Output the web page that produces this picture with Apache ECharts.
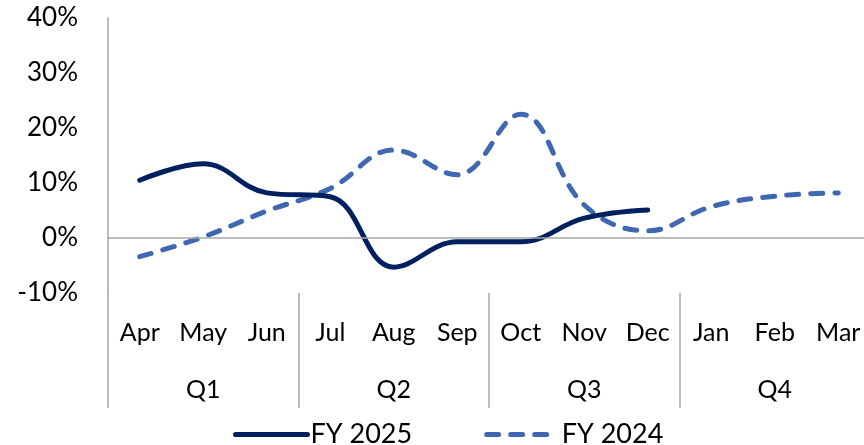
<!DOCTYPE html>
<html>
<head>
<meta charset="utf-8">
<script src="https://cdn.jsdelivr.net/npm/echarts@6/dist/echarts.min.js"></script>
<style>
  html, body { margin: 0; padding: 0; background: #fff; }
  #chart { width: 864px; height: 445px; }
</style>
</head>
<body>
<div id="chart"></div>
<script>
const months = ['Apr', 'May', 'Jun', 'Jul', 'Aug', 'Sep', 'Oct', 'Nov', 'Dec', 'Jan', 'Feb', 'Mar'];
const quarters = ['Q1', 'Q2', 'Q3', 'Q4'];
const fy2025 = [10.5, 13.5, 8.2, 7.5, -5.3, -0.7, -0.7, 3.6, 5.1];
const fy2024 = [-3.4, 0.2, 4.9, 9.0, 16.0, 11.5, 22.5, 6.0, 1.3, 5.7, 7.6, 8.2];

const font = 'Lato, "Open Sans", sans-serif';
const grey = '#a6a6a6';
const chart = echarts.init(document.getElementById('chart'));

chart.setOption({
    backgroundColor: '#fff',
    animation: false,
    grid: [
        // plot area (runs a little past the right edge, like the original)
        { left: 108, width: 762, top: 18, height: 275, outerBoundsMode: 'none' },
        // band under the plot that holds the quarter separators
        { left: 108, width: 762, top: 293, height: 115, outerBoundsMode: 'none' }
    ],
    legend: {
        left: 228,
        top: 416,
        itemWidth: 72,
        itemHeight: 6,
        itemGap: 72,
        textStyle: { fontFamily: font, fontSize: 27, color: '#000', padding: [0, 0, 0, -2] },
        itemStyle: { opacity: 0 },
        lineStyle: { width: 5 },
        data: ['FY 2025', 'FY 2024']
    },
    xAxis: [
        {
            type: 'category',
            data: months,
            gridIndex: 0,
            position: 'bottom',
            axisLine: { show: false },
            axisTick: { show: false },
            axisLabel: {
                margin: 27,
                interval: 0,
                fontFamily: font,
                fontSize: 25,
                color: '#000'
            }
        },
        {
            type: 'category',
            data: quarters,
            gridIndex: 0,
            position: 'bottom',
            axisLine: { show: false },
            axisTick: { show: false },
            axisLabel: {
                margin: 84,
                fontFamily: font,
                fontSize: 25,
                color: '#000'
            }
        },
        {
            type: 'category',
            data: quarters,
            gridIndex: 1,
            axisLine: { show: false },
            axisTick: { show: false },
            axisLabel: { show: false },
            splitLine: {
                show: true,
                interval: 0,
                lineStyle: { color: grey, width: 1.5 }
            }
        }
    ],
    yAxis: [
        {
            type: 'value',
            gridIndex: 0,
            min: -10,
            max: 40,
            interval: 10,
            axisLine: { show: true, lineStyle: { color: grey, width: 1.5 } },
            axisTick: { show: false },
            splitLine: { show: false },
            axisLabel: {
                margin: 30,
                formatter: '{value}%',
                fontFamily: font,
                fontSize: 26,
                color: '#000'
            }
        },
        {
            type: 'value',
            gridIndex: 1,
            show: false
        }
    ],
    series: [
        {
            name: 'FY 2025',
            type: 'line',
            data: fy2025,
            smooth: 0.4,
            symbol: 'none',
            lineStyle: { color: '#002060', width: 5, cap: 'round' },
            itemStyle: { color: '#002060' },
            markLine: {
                silent: true,
                symbol: 'none',
                label: { show: false },
                lineStyle: { color: grey, width: 1.5, type: 'solid' },
                data: [{ yAxis: 0 }]
            },
            z: 3
        },
        {
            name: 'FY 2024',
            type: 'line',
            data: fy2024,
            smooth: 0.4,
            symbol: 'none',
            lineStyle: { color: '#4068b2', width: 5, type: [12, 12], cap: 'round' },
            itemStyle: { color: '#4068b2' },
            z: 2
        }
    ]
});
</script>
</body>
</html>
